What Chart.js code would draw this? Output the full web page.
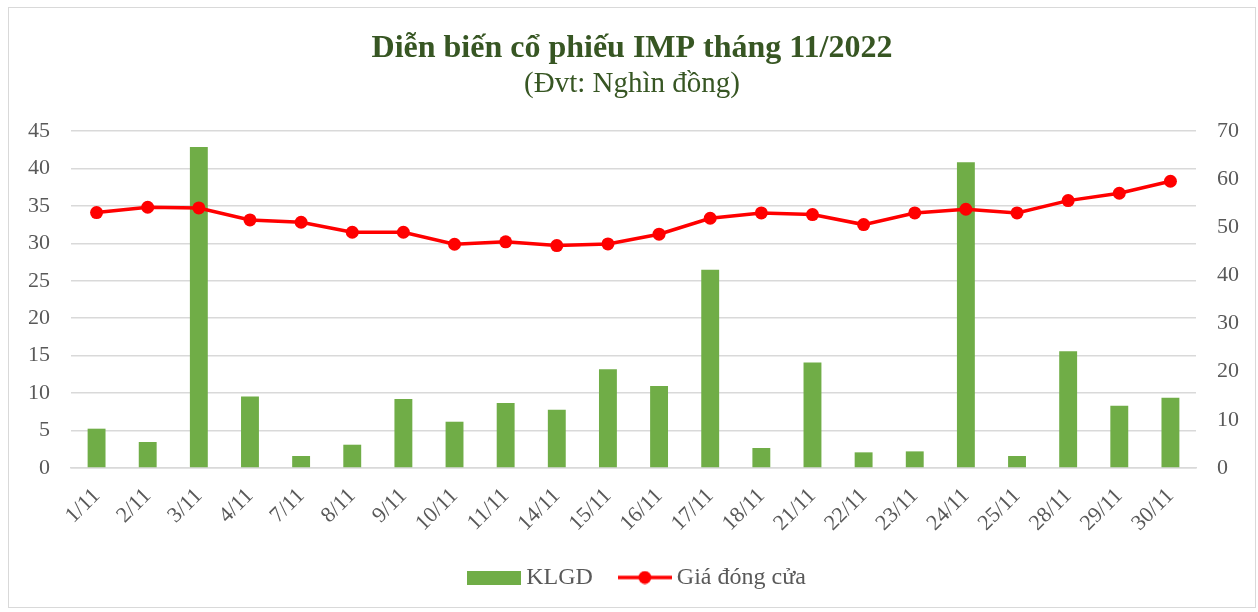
<!DOCTYPE html>
<html>
<head>
<meta charset="utf-8">
<script src="https://cdn.jsdelivr.net/npm/chart.js@4"></script>
<style>
  html, body { margin: 0; padding: 0; background: #ffffff; }
  #wrap { position: relative; width: 1258px; height: 612px; }
  #frame { position: absolute; left: 8px; top: 7px; width: 1248px; height: 601px; border: 1px solid #d9d9d9; box-sizing: border-box; pointer-events: none; }
  canvas { position: absolute; left: 0; top: 0; }
</style>
</head>
<body>
<div id="wrap">
  <canvas id="c" width="1258" height="612"></canvas>
  <div id="frame"></div>
</div>
<script>
const categories = ['1/11','2/11','3/11','4/11','7/11','8/11','9/11','10/11','11/11','14/11','15/11','16/11','17/11','18/11','21/11','22/11','23/11','24/11','25/11','28/11','29/11','30/11'];
const klgd = [5.25, 3.47, 42.86, 9.56, 1.6, 3.11, 9.2, 6.18, 8.67, 7.78, 13.2, 10.94, 26.46, 2.67, 14.1, 2.09, 2.22, 40.82, 1.6, 15.6, 8.31, 9.38];
const giaDongCua = [53.05, 54.16, 54.02, 51.53, 51.05, 48.97, 48.97, 46.48, 46.97, 46.2, 46.55, 48.56, 51.88, 52.98, 52.64, 50.56, 52.98, 53.75, 52.98, 55.54, 57.07, 59.56];
const leftTicks = [0, 5, 10, 15, 20, 25, 30, 35, 40, 45];
const rightTicks = [0, 10, 20, 30, 40, 50, 60, 70];
const titleText = 'Diễn biến cổ phiếu IMP tháng 11/2022';
const subtitleText = '(Đvt: Nghìn đồng)';
const barLabel = 'KLGD';
const lineLabel = 'Giá đóng cửa';

const GREEN = '#70AD47';
const RED = '#FF0000';
const TXT = '#595959';
const GRID = '#d9d9d9';
const SERIF = "'Liberation Serif', 'Times New Roman', serif";

// legend icons
const boxIcon = document.createElement('canvas');
boxIcon.width = 54; boxIcon.height = 14;
(function(){ const g = boxIcon.getContext('2d'); g.fillStyle = GREEN; g.fillRect(0, 0, 54, 14); })();
const lineIcon = document.createElement('canvas');
lineIcon.width = 54; lineIcon.height = 14;
(function(){ const g = lineIcon.getContext('2d'); g.strokeStyle = RED; g.lineWidth = 3.5; g.beginPath(); g.moveTo(0, 7); g.lineTo(54, 7); g.stroke(); g.fillStyle = RED; g.beginPath(); g.arc(27, 7, 6.5, 0, Math.PI * 2); g.fill(); })();

const shiftLegend = {
  id: 'shiftLegend',
  afterLayout(chart) { if (chart.legend) { chart.legend.left += 8; chart.legend.right += 8; } }
};

new Chart(document.getElementById('c'), {
  data: {
    labels: categories,
    datasets: [
      {
        type: 'line', label: lineLabel, data: giaDongCua, yAxisID: 'y2', order: 0,
        borderColor: RED, backgroundColor: RED, borderWidth: 3.5,
        pointRadius: 6.5, pointHoverRadius: 6.5, pointBackgroundColor: RED, pointBorderWidth: 0,
        tension: 0
      },
      {
        type: 'bar', label: barLabel, data: klgd, yAxisID: 'y', order: 1,
        backgroundColor: GREEN, borderWidth: 0,
        categoryPercentage: 1.0, barPercentage: 0.35
      }
    ]
  },
  plugins: [shiftLegend],
  options: {
    responsive: false,
    animation: false,
    layout: { padding: { top: 0, bottom: 12.5, left: 6, right: 0 } },
    plugins: {
      title: {
        display: true, text: titleText, color: '#375623',
        font: { family: SERIF, size: 32, weight: 'bold', lineHeight: 1.0 },
        padding: { top: 33, bottom: 0 }
      },
      subtitle: {
        display: true, text: subtitleText, color: '#375623',
        font: { family: SERIF, size: 29, weight: 'normal', lineHeight: 1.0 },
        padding: { top: 5, bottom: 32 }
      },
      legend: {
        display: true, position: 'bottom',
        labels: {
          usePointStyle: true, pointStyleWidth: 40, boxHeight: 14,
          padding: 32, color: TXT,
          font: { family: SERIF, size: 24 },
          generateLabels: () => [
            { text: barLabel, pointStyle: boxIcon, fillStyle: GREEN, strokeStyle: GREEN, lineWidth: 0, fontColor: TXT, datasetIndex: 1, hidden: false },
            { text: lineLabel, pointStyle: lineIcon, fillStyle: RED, strokeStyle: RED, lineWidth: 0, fontColor: TXT, datasetIndex: 0, hidden: false }
          ]
        }
      },
      tooltip: { enabled: false }
    },
    scales: {
      x: {
        grid: { display: false, drawTicks: false },
        border: { display: true, color: GRID, width: 1.5 },
        ticks: {
          color: TXT, font: { family: SERIF, size: 22 },
          minRotation: 45, maxRotation: 45, autoSkip: false, padding: 15
        },
        afterFit: s => { s.height = 65.5; }
      },
      y: {
        position: 'left', min: 0, max: 45,
        afterBuildTicks: s => { s.ticks = leftTicks.map(v => ({ value: v })); },
        grid: { color: GRID, lineWidth: 1.5, drawTicks: false },
        border: { display: false },
        ticks: { color: TXT, font: { family: SERIF, size: 22 }, padding: 21 },
        afterFit: s => { s.width = 65; }
      },
      y2: {
        position: 'right', min: 0, max: 70,
        afterBuildTicks: s => { s.ticks = rightTicks.map(v => ({ value: v })); },
        grid: { display: false, drawTicks: false },
        border: { display: false },
        ticks: { color: TXT, font: { family: SERIF, size: 22 }, padding: 21 },
        afterFit: s => { s.width = 62; }
      }
    }
  }
});
</script>
</body>
</html>
